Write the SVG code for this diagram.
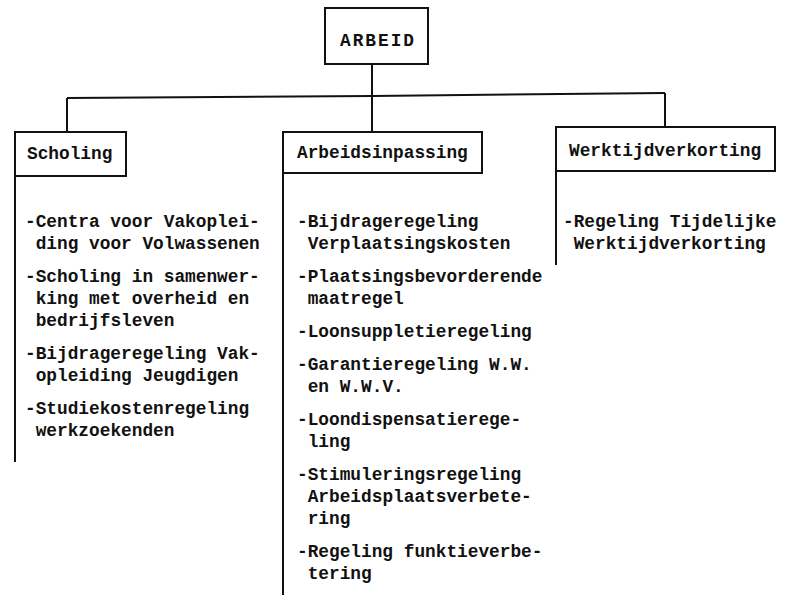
<svg xmlns="http://www.w3.org/2000/svg" width="787" height="597" viewBox="0 0 787 597">
<style>
.box{fill:none;stroke:#111;stroke-width:2}
.ln{fill:none;stroke:#111;stroke-width:2}
text{font-family:"Liberation Mono","DejaVu Sans Mono",monospace;font-size:17.8px;font-weight:bold;fill:#111}
.title{letter-spacing:2px}
</style>
<rect width="787" height="597" fill="#fff"/>
<g id="connectors">
<path class="ln" d="M372,64 V132"/>
<path class="ln" d="M67,98 L372,96 L665,93"/>
<path class="ln" d="M67,98 V132"/>
<path class="ln" d="M665,93 V127"/>
</g>
<g id="arbeid">
<rect class="box" x="325" y="8" width="103" height="56"/>
<text class="title" x="378" y="46" text-anchor="middle">ARBEID</text>
</g>
<g id="scholing">
<rect class="box" x="15" y="132" width="111" height="44"/>
<path class="ln" d="M15,176 V462"/>
<text x="27" y="159">Scholing</text>
<text x="25" y="227">-Centra voor Vakoplei-</text>
<text x="35.7" y="249">ding voor Volwassenen</text>
<text x="25" y="282">-Scholing in samenwer-</text>
<text x="35.7" y="304">king met overheid en</text>
<text x="35.7" y="326">bedrijfsleven</text>
<text x="25" y="359">-Bijdrageregeling Vak-</text>
<text x="35.7" y="381">opleiding Jeugdigen</text>
<text x="25" y="414">-Studiekostenregeling</text>
<text x="35.7" y="436">werkzoekenden</text>
</g>
<g id="arbeidsinpassing">
<rect class="box" x="283" y="132" width="199" height="41"/>
<path class="ln" d="M283,173 V595"/>
<text x="297" y="158">Arbeidsinpassing</text>
<text x="297" y="227">-Bijdrageregeling</text>
<text x="307.7" y="249">Verplaatsingskosten</text>
<text x="297" y="282">-Plaatsingsbevorderende</text>
<text x="307.7" y="304">maatregel</text>
<text x="297" y="337">-Loonsuppletieregeling</text>
<text x="297" y="370">-Garantieregeling W.W.</text>
<text x="307.7" y="392">en W.W.V.</text>
<text x="297" y="425">-Loondispensatierege-</text>
<text x="307.7" y="447">ling</text>
<text x="297" y="480">-Stimuleringsregeling</text>
<text x="307.7" y="502">Arbeidsplaatsverbete-</text>
<text x="307.7" y="524">ring</text>
<text x="297" y="557">-Regeling funktieverbe-</text>
<text x="307.7" y="579">tering</text>
</g>
<g id="werktijdverkorting">
<rect class="box" x="556" y="127" width="219" height="44"/>
<path class="ln" d="M556,171 V265"/>
<text x="569" y="156">Werktijdverkorting</text>
<text x="563" y="227">-Regeling Tijdelijke</text>
<text x="573.7" y="249">Werktijdverkorting</text>
</g>
</svg>
